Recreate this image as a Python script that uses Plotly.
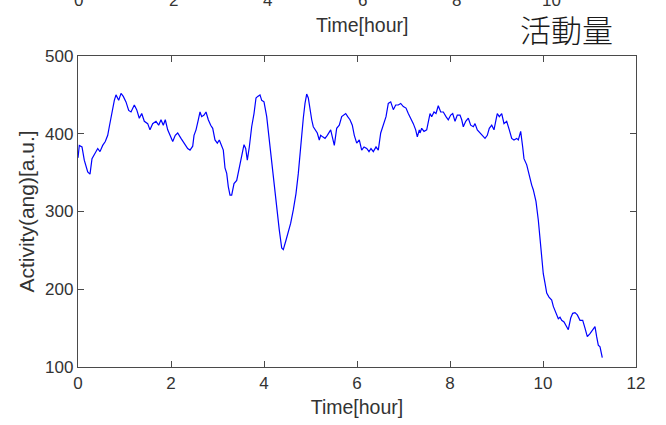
import plotly.graph_objects as go

# Elapsed time [hour] and activity (angular) [a.u.]
time_h = [
    0.000, 0.028, 0.086, 0.135, 0.209, 0.258, 0.301, 0.351, 0.424, 0.473,
    0.531, 0.587, 0.639, 0.673, 0.731, 0.781, 0.817, 0.875, 0.925, 0.974,
    1.032, 1.090, 1.140, 1.211, 1.262, 1.318, 1.370, 1.426, 1.499, 1.548,
    1.606, 1.677, 1.735, 1.785, 1.834, 1.877, 1.929, 1.978, 2.037, 2.092,
    2.144, 2.215, 2.286, 2.359, 2.409, 2.467, 2.495, 2.538, 2.587, 2.624,
    2.660, 2.710, 2.753, 2.802, 2.854, 2.897, 2.946, 2.996, 3.039, 3.090,
    3.125, 3.161, 3.198, 3.232, 3.269, 3.305, 3.355, 3.413, 3.469, 3.520,
    3.570, 3.606, 3.641, 3.684, 3.735, 3.785, 3.828, 3.865, 3.914, 3.951,
    4.000, 4.058, 4.114, 4.166, 4.200, 4.237, 4.286, 4.329, 4.381, 4.415,
    4.473, 4.523, 4.574, 4.630, 4.688, 4.738, 4.789, 4.845, 4.882, 4.918,
    4.953, 4.989, 5.026, 5.060, 5.097, 5.146, 5.189, 5.219, 5.262, 5.312,
    5.361, 5.404, 5.434, 5.469, 5.512, 5.563, 5.619, 5.671, 5.705, 5.757,
    5.800, 5.849, 5.899, 5.942, 5.994, 6.049, 6.101, 6.151, 6.209, 6.258,
    6.301, 6.351, 6.409, 6.458, 6.510, 6.566, 6.624, 6.673, 6.725, 6.781,
    6.832, 6.888, 6.940, 6.996, 7.054, 7.103, 7.155, 7.211, 7.262, 7.297,
    7.340, 7.355, 7.391, 7.441, 7.499, 7.533, 7.570, 7.606, 7.656, 7.699,
    7.748, 7.800, 7.856, 7.914, 7.963, 8.015, 8.058, 8.108, 8.157, 8.215,
    8.252, 8.286, 8.338, 8.394, 8.445, 8.501, 8.538, 8.587, 8.645, 8.703,
    8.753, 8.802, 8.845, 8.897, 8.946, 8.989, 9.017, 9.060, 9.112, 9.161,
    9.219, 9.275, 9.327, 9.376, 9.434, 9.469, 9.520, 9.563, 9.591, 9.650,
    9.705, 9.757, 9.791, 9.849, 9.899, 9.935, 9.972, 10.006, 10.043, 10.080,
    10.129, 10.187, 10.222, 10.280, 10.329, 10.366, 10.402, 10.452, 10.510, 10.544,
    10.596, 10.639, 10.688, 10.738, 10.796, 10.854, 10.903, 10.953, 11.011, 11.069,
    11.118, 11.154, 11.189, 11.226, 11.262, 11.275,
]
activity = [
    369, 385, 383, 366, 351, 348, 368, 373, 381, 377,
    385, 390, 398, 409, 430, 443, 450, 443, 452, 448,
    441, 430, 428, 437, 431, 420, 426, 416, 413, 405,
    413, 416, 411, 418, 411, 418, 405, 398, 390, 398,
    401, 394, 388, 381, 379, 384, 398, 405, 418, 428,
    422, 424, 428, 418, 411, 407, 392, 388, 392, 383,
    379, 356, 349, 332, 321, 321, 336, 340, 358, 373,
    386, 381, 366, 383, 409, 426, 446, 448, 450, 443,
    441, 422, 392, 358, 345, 323, 298, 276, 253, 251,
    263, 274, 285, 302, 323, 349, 388, 420, 439, 451,
    446, 431, 418, 409, 405, 401, 392, 398, 396, 394,
    398, 403, 405, 396, 385, 407, 411, 422, 424, 426,
    422, 418, 411, 398, 388, 392, 379, 383, 381, 377,
    381, 377, 383, 379, 401, 411, 422, 439, 441, 431,
    437, 437, 439, 435, 433, 426, 420, 413, 405, 396,
    405, 401, 407, 403, 405, 418, 426, 422, 428, 426,
    436, 428, 428, 422, 418, 424, 426, 416, 424, 424,
    418, 409, 416, 420, 411, 409, 413, 405, 401, 396,
    394, 398, 407, 411, 405, 418, 426, 422, 426, 413,
    416, 405, 394, 392, 394, 392, 403, 383, 368, 360,
    345, 334, 328, 313, 289, 263, 238, 220, 208, 195,
    190, 186, 178, 169, 162, 164, 160, 158, 152, 148,
    163, 169, 170, 167, 160, 160, 150, 139, 143, 148,
    152, 139, 128, 126, 115, 112,
]

x_ticks = [0, 2, 4, 6, 8, 10, 12]
y_ticks = [100, 200, 300, 400, 500]

# Tick labels and title of the panel stacked above, which run off the page top
upper_ticks = ["0", "2", "4", "6", "8", "10", "12"]
upper_scale, upper_offset = 1.016, 0.02

AXIS_COLOR = "#4a4a4a"
TEXT_COLOR = "#333333"
FONT = "Liberation Sans, Arial, sans-serif"

fig = go.Figure()
fig.add_trace(go.Scatter(
    x=time_h, y=activity, mode="lines",
    line=dict(color="#0000ff", width=1.2),
    showlegend=False,
))

axis_common = dict(
    showgrid=False, zeroline=False,
    showline=True, linecolor=AXIS_COLOR, linewidth=1.3, mirror="ticks",
    ticks="inside", ticklen=6, tickwidth=1, tickcolor=AXIS_COLOR,
    tickfont=dict(family=FONT, size=17, color=TEXT_COLOR),
)

fig.update_xaxes(
    range=[0, 12], tickvals=x_ticks, ticktext=[str(v) for v in x_ticks],
    title=dict(text="Time[hour]", font=dict(family=FONT, size=19.5, color=TEXT_COLOR), standoff=8),
    **axis_common,
)
fig.update_yaxes(
    range=[100, 500], tickvals=y_ticks, ticktext=[str(v) for v in y_ticks],
    title=dict(text="Activity(ang)[a.u.]", font=dict(family=FONT, size=21, color=TEXT_COLOR), standoff=4),
    **axis_common,
)

annotations = []
for lbl in upper_ticks:
    annotations.append(dict(
        text=lbl, xref="x", yref="paper",
        x=float(lbl) * upper_scale + upper_offset, y=1.177,
        xanchor="center", yanchor="middle", showarrow=False,
        font=dict(family=FONT, size=17, color=TEXT_COLOR),
    ))
annotations.append(dict(
    text="Time[hour]", xref="x", yref="paper",
    x=6 * upper_scale + upper_offset, y=1.0997,
    xanchor="center", yanchor="middle", showarrow=False,
    font=dict(family=FONT, size=19.5, color=TEXT_COLOR),
))
annotations.append(dict(
    text="活動量", xref="paper", yref="paper",
    x=0.9615, y=1.088, xanchor="right", yanchor="middle", showarrow=False,
    font=dict(family="Noto Sans CJK JP", size=31, color="#1a1a1a", weight=300),
))

fig.update_layout(
    width=666, height=425,
    margin=dict(l=78, r=30, t=56, b=58),
    paper_bgcolor="white", plot_bgcolor="white",
    annotations=annotations,
)

fig.write_html("out.html")
